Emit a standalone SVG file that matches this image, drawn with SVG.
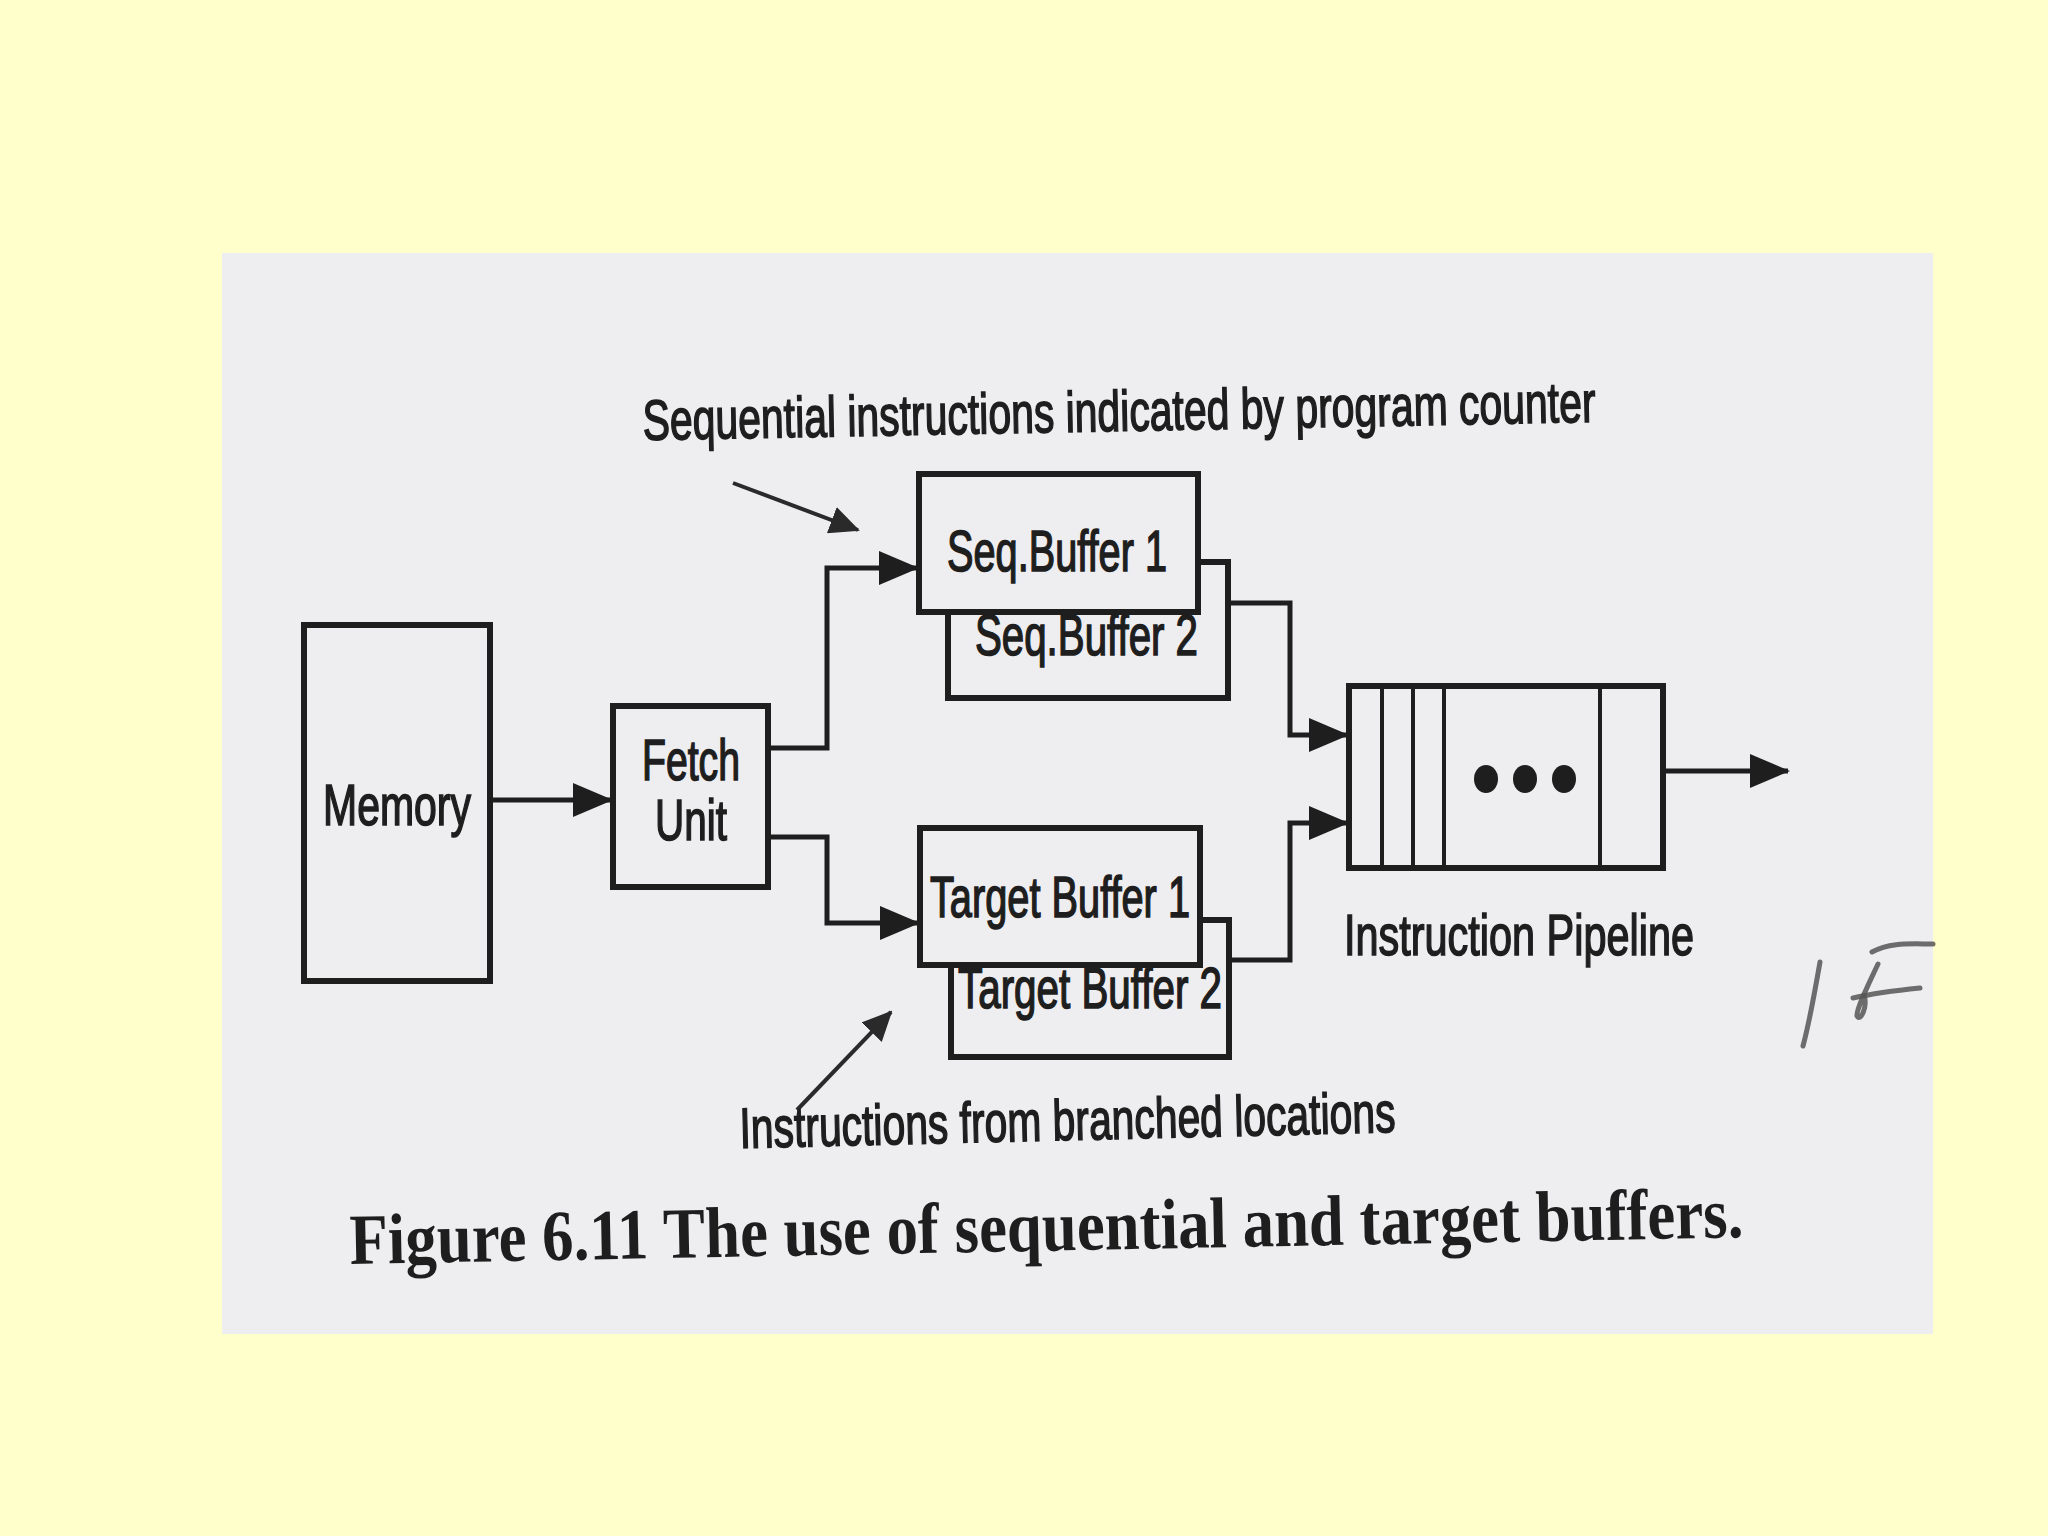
<svg xmlns="http://www.w3.org/2000/svg" width="2048" height="1536" viewBox="0 0 2048 1536">
  <defs>
    <style>
      .box { fill: #eeedf0; stroke: #1e1e1e; stroke-width: 6; }
      .div { stroke: #1e1e1e; stroke-width: 4; fill: none; }
      .conn { fill: none; stroke: #1e1e1e; stroke-width: 5; }
      .note { fill: none; stroke: #2a2a2a; stroke-width: 4; }
      .lbl { font-family: "Liberation Sans", Arial, sans-serif; font-size: 57px; fill: #1e1e1e; stroke: #1e1e1e; stroke-width: 1.6; }
      .cap { font-family: "Liberation Serif", "Times New Roman", serif; font-weight: bold; font-size: 72px; fill: #1e1e1e; }
      .hand { fill: none; stroke: #555; stroke-width: 5; stroke-linecap: round; stroke-linejoin: round; opacity: 0.85; }
    </style>
    <marker id="ah" markerUnits="userSpaceOnUse" markerWidth="40" markerHeight="34" refX="38" refY="17" orient="auto">
      <path d="M0,0 L40,17 L0,34 z" fill="#1e1e1e"/>
    </marker>
    <marker id="ahs" markerUnits="userSpaceOnUse" markerWidth="30" markerHeight="28" refX="28" refY="14" orient="auto">
      <path d="M0,0 L30,14 L0,28 z" fill="#2a2a2a"/>
    </marker>
  </defs>

  <rect x="0" y="0" width="2048" height="1536" fill="#ffffcc"/>
  <rect x="222" y="253" width="1711" height="1081" fill="#eeedf0"/>

  <g id="connectors">
    <path class="conn" d="M490,800 H611" marker-end="url(#ah)"/>
    <path class="conn" d="M768,748 H827 V568 H917" marker-end="url(#ah)"/>
    <path class="conn" d="M768,837 H827 V923 H918" marker-end="url(#ah)"/>
    <path class="conn" d="M1228,603 H1290 V735 H1347" marker-end="url(#ah)"/>
    <path class="conn" d="M1229,960 H1290 V823 H1347" marker-end="url(#ah)"/>
    <path class="conn" d="M1663,771 H1788" marker-end="url(#ah)"/>
    <path class="note" d="M733,483 L858,530" marker-end="url(#ahs)"/>
    <path class="note" d="M797,1110 L891,1012" marker-end="url(#ahs)"/>
  </g>

  <g id="memory">
    <rect class="box" x="304" y="625" width="186" height="356"/>
    <text class="lbl" x="397" y="825" text-anchor="middle" textLength="148" lengthAdjust="spacingAndGlyphs">Memory</text>
  </g>

  <g id="fetch-unit">
    <rect class="box" x="613" y="706" width="155" height="181"/>
    <text class="lbl" x="691" y="780" text-anchor="middle" textLength="98" lengthAdjust="spacingAndGlyphs">Fetch</text>
    <text class="lbl" x="691" y="840" text-anchor="middle" textLength="72" lengthAdjust="spacingAndGlyphs">Unit</text>
  </g>

  <g id="seq-buffer-2">
    <rect class="box" x="948" y="562" width="280" height="136"/>
    <text class="lbl" x="975" y="655" textLength="223" lengthAdjust="spacingAndGlyphs">Seq.Buffer 2</text>
  </g>

  <g id="seq-buffer-1">
    <rect class="box" x="919" y="474" width="279" height="138"/>
    <text class="lbl" x="947" y="571" textLength="220" lengthAdjust="spacingAndGlyphs">Seq.Buffer 1</text>
  </g>

  <g id="target-buffer-2">
    <rect class="box" x="951" y="920" width="278" height="137"/>
    <text class="lbl" x="958" y="1008" textLength="264" lengthAdjust="spacingAndGlyphs">Target Buffer 2</text>
  </g>

  <g id="target-buffer-1">
    <rect class="box" x="920" y="828" width="280" height="137"/>
    <text class="lbl" x="930" y="917" textLength="260" lengthAdjust="spacingAndGlyphs">Target Buffer 1</text>
  </g>

  <g id="instruction-pipeline">
    <rect class="box" x="1349" y="686" width="314" height="182"/>
    <line class="div" x1="1382" y1="686" x2="1382" y2="868"/>
    <line class="div" x1="1413" y1="686" x2="1413" y2="868"/>
    <line class="div" x1="1444" y1="686" x2="1444" y2="868"/>
    <line class="div" x1="1600" y1="686" x2="1600" y2="868"/>
    <ellipse cx="1486" cy="779" rx="12" ry="14" fill="#1e1e1e"/>
    <ellipse cx="1525" cy="779" rx="12" ry="14" fill="#1e1e1e"/>
    <ellipse cx="1564" cy="779" rx="12" ry="14" fill="#1e1e1e"/>
    <text class="lbl" x="1344" y="955" textLength="350" lengthAdjust="spacingAndGlyphs">Instruction Pipeline</text>
  </g>

  <g id="annotations">
    <text class="lbl" x="643" y="440" textLength="953" lengthAdjust="spacingAndGlyphs" transform="rotate(-1.1 643 440)">Sequential instructions indicated by program counter</text>
    <text class="lbl" x="740" y="1148" textLength="656" lengthAdjust="spacingAndGlyphs" transform="rotate(-1.4 740 1148)">Instructions from branched locations</text>
    <text class="cap" x="350" y="1264" textLength="1394" lengthAdjust="spacingAndGlyphs" transform="rotate(-1.1 350 1264)">Figure 6.11 The use of sequential and target buffers.</text>
  </g>

  <g id="handwritten-mark">
    <path class="hand" d="M1820,962 C1816,985 1810,1020 1803,1046"/>
    <path class="hand" d="M1872,952 C1890,942 1910,944 1933,944"/>
    <path class="hand" d="M1878,964 C1868,985 1856,1010 1857,1016 C1860,1022 1868,1008 1864,995"/>
    <path class="hand" d="M1853,998 C1875,993 1900,990 1920,988"/>
  </g>
</svg>
